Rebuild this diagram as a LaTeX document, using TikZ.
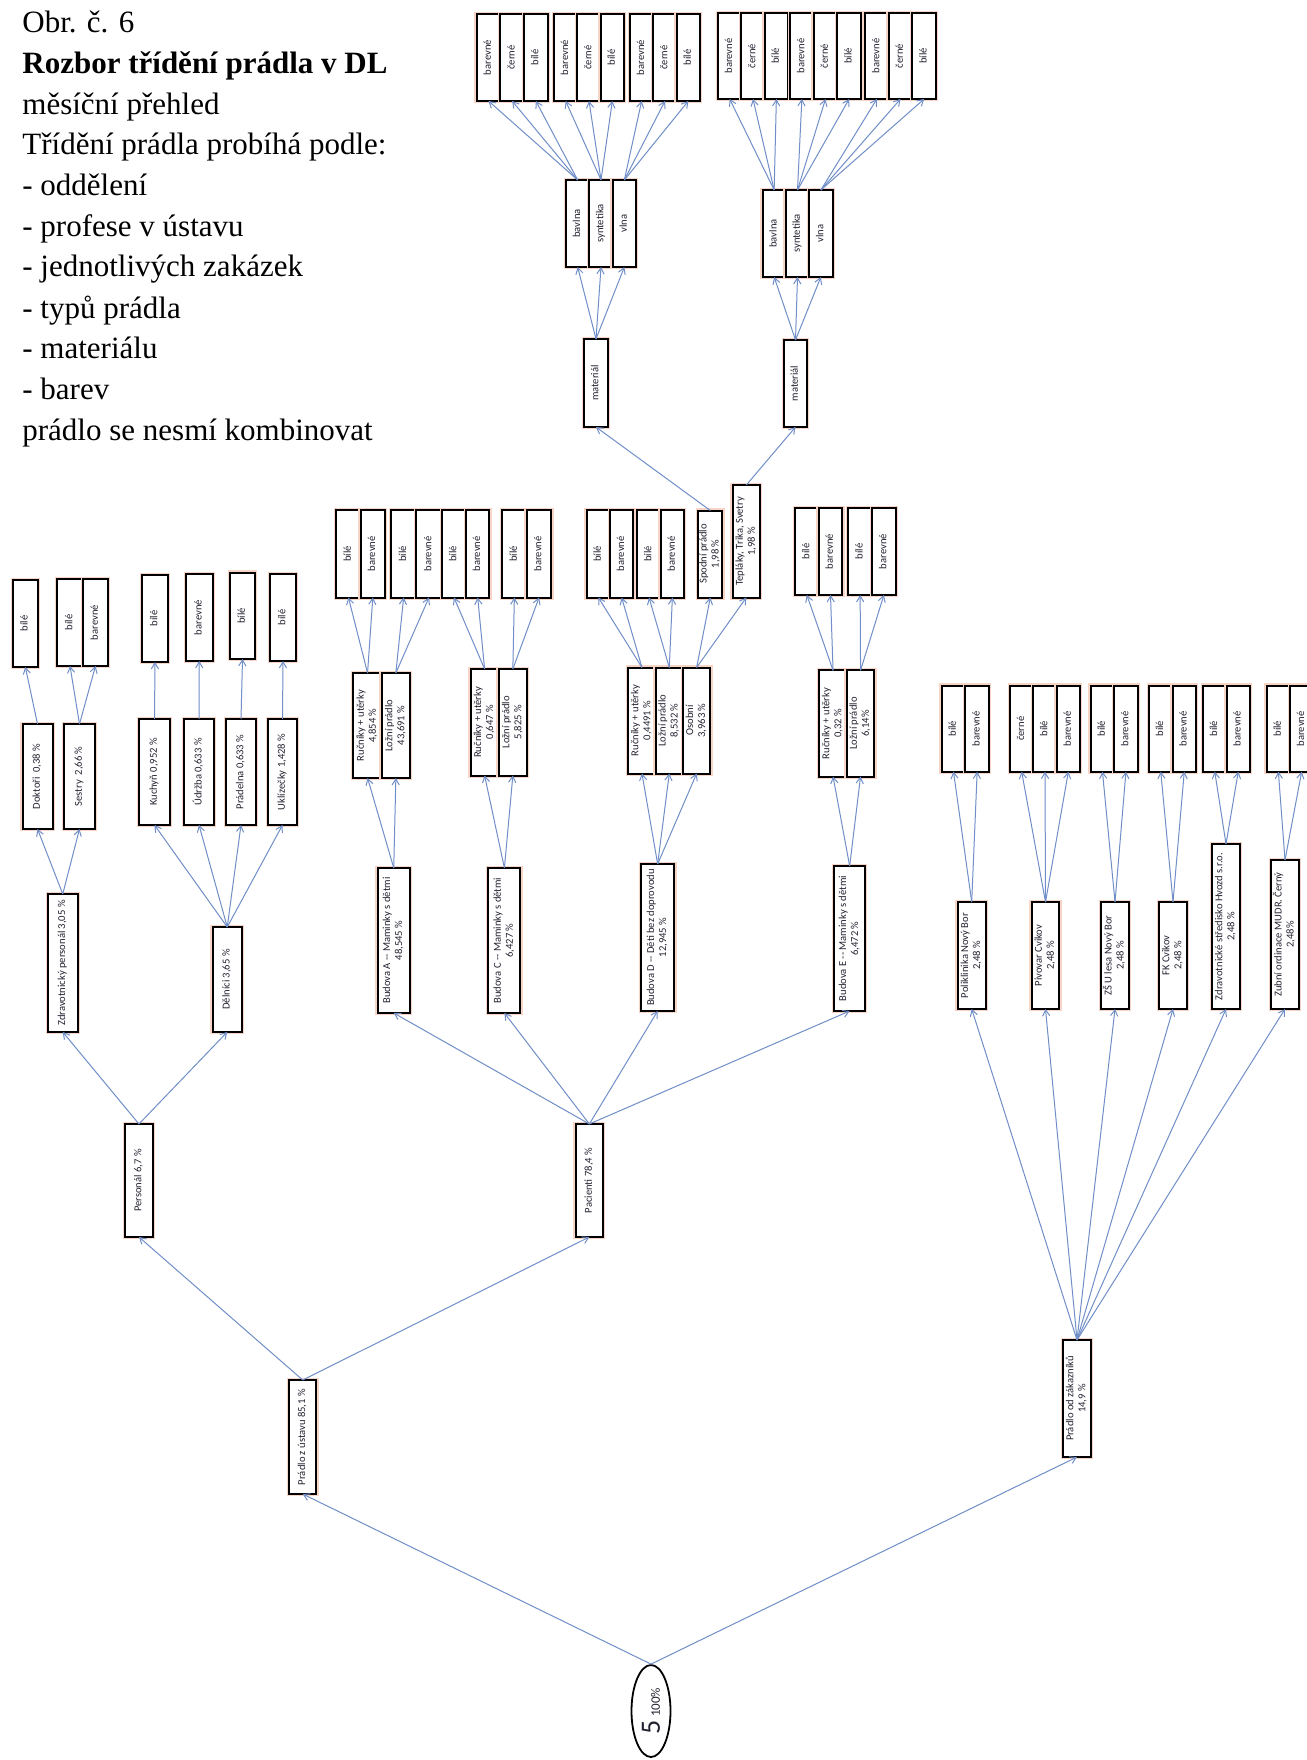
\documentclass[tikz,border=0pt]{standalone}
\usepackage{fontspec}
\setmainfont{Liberation Serif}
\newfontfamily\boxfont{Carlito}
\usetikzlibrary{arrows.meta,shapes.geometric}
\definecolor{arrc}{RGB}{112,142,200}
\definecolor{txtc}{RGB}{35,35,50}
\definecolor{halo}{RGB}{246,212,198}
\newcommand{\rt}[1]{\rotatebox{90}{\begin{tabular}{@{}c@{}}#1\end{tabular}}}
\newcommand{\bx}[6]{\node[box, minimum width={(#4-#2)*0.5pt}, minimum height={(#5-#3)*0.5pt}] (#1) at ({(#2+#4)/2},{(#3+#5)/2}) {\rt{#6}};}
\newcommand{\tl}[3]{\node[titletext] (#1) at (22,#2) {#3};}
\tikzset{
  box/.style={draw=black, line width=1pt, fill=white, inner sep=0pt, outer sep=0pt,
    font=\boxfont\fontsize{5.3pt}{6pt}\selectfont, text=txtc,
    preaction={draw=halo, line width=2.4pt}},
  arr/.style={draw=arrc, line width=0.5pt, -{Straight Barb[length=3pt,width=3.6pt]}},
  titletext/.style={anchor=base west, inner sep=0pt, font=\fontsize{15.5pt}{20pt}\selectfont, text=black}
}
\begin{document}
\begin{tikzpicture}[x=0.5pt,y=-0.5pt]
\fill[white] (0,0) rectangle (1306,1760);
\useasboundingbox (0,0) rectangle (1306,1760);

% ---------- title text ----------
\tl{t1}{33}{Obr. č. 6}
\tl{t2}{73.7}{\textbf{Rozbor třídění prádla v DL}}
\tl{t3}{114.4}{měsíční přehled}
\tl{t4}{155}{Třídění prádla probíhá podle:}
\tl{t5}{195.8}{- oddělení}
\tl{t6}{236.5}{- profese v ústavu}
\tl{t7}{277}{- jednotlivých zakázek}
\tl{t8}{318}{- typů prádla}
\tl{t9}{358.6}{- materiálu}
\tl{t10}{399}{- barev}
\tl{t11}{440}{prádlo se nesmí kombinovat}

% ---------- top left group ----------
\bx{a1}{476.7}{14}{500.3}{101}{barevné}
\bx{a2}{500.3}{14}{524}{101}{černé}
\bx{a3}{524}{14}{547.7}{101}{bílé}
\bx{b1}{554}{14}{577.3}{101}{barevné}
\bx{b2}{577.3}{14}{600.7}{101}{černé}
\bx{b3}{600.7}{14}{624}{101}{bílé}
\bx{c1}{630}{14}{653.3}{101}{barevné}
\bx{c2}{653.3}{14}{676.7}{101}{černé}
\bx{c3}{676.7}{14}{700}{101}{bílé}
\bx{m1}{566}{180}{589.3}{267}{bavlna}
\bx{m2}{589.3}{180}{612.7}{267}{syntetika}
\bx{m3}{612.7}{180}{636}{267}{vlna}
\bx{ml}{584}{339}{608}{427}{materiál}

% ---------- top right group ----------
\bx{d1}{718}{13}{741.3}{99}{barevné}
\bx{d2}{741.3}{13}{764.7}{99}{černé}
\bx{d3}{764.7}{13}{788}{99}{bílé}
\bx{e1}{790}{13}{813.7}{99}{barevné}
\bx{e2}{813.7}{13}{837.3}{99}{černé}
\bx{e3}{837.3}{13}{861}{99}{bílé}
\bx{f1}{865}{13}{888.7}{99}{barevné}
\bx{f2}{888.7}{13}{912.3}{99}{černé}
\bx{f3}{912.3}{13}{936}{99}{bílé}
\bx{n1}{762.5}{190}{785.8}{277}{bavlna}
\bx{n2}{785.8}{190}{809.2}{277}{syntetika}
\bx{n3}{809.2}{190}{832.5}{277}{vlna}
\bx{mr}{784}{340}{807}{427}{materiál}

% ---------- patients: colour boxes ----------
\bx{pa1}{336.2}{510}{360.6}{597.5}{bílé}
\bx{pa2}{360.6}{510}{385}{597.5}{barevné}
\bx{q1}{391.3}{510}{416}{597.5}{bílé}
\bx{q2}{416}{510}{442}{597.5}{barevné}
\bx{q3}{442}{510}{466}{597.5}{bílé}
\bx{q4}{466}{510}{489.4}{597.5}{barevné}
\bx{pc1}{502}{510}{526.7}{597.5}{bílé}
\bx{pc2}{526.7}{510}{551.4}{597.5}{barevné}
\bx{dc1}{586.7}{510}{610}{597.5}{bílé}
\bx{dc2}{610}{510}{633.3}{597.5}{barevné}
\bx{dc3}{637.3}{510}{660.7}{597.5}{bílé}
\bx{dc4}{660.7}{510}{684}{597.5}{barevné}
\bx{spod}{698.3}{510.5}{722.3}{597.5}{Spodní prádlo\\1,98 \%}
\bx{tepl}{732.7}{485}{760}{597.5}{Tepláky, Trika, Svetry\\1,98 \%}
\bx{ec1}{795}{508}{818.7}{595}{bílé}
\bx{ec2}{818.7}{508}{842.3}{595}{barevné}
\bx{ec3}{848.3}{508}{872}{595}{bílé}
\bx{ec4}{872}{508}{895.7}{595}{barevné}

% ---------- patients: type boxes ----------
\bx{rA1}{353.4}{673}{381.7}{778}{Ručníky + utěrky\\4,854 \%}
\bx{rA2}{381.7}{673}{410}{778}{Ložní prádlo\\43,691 \%}
\bx{rC1}{470.5}{669}{498.7}{775.5}{Ručníky + utěrky\\0,647 \%}
\bx{rC2}{498.7}{669}{527}{775.5}{Ložní prádlo\\5,825 \%}
\bx{rD1}{628.3}{667.5}{655.6}{773.5}{Ručníky + utěrky\\0,4491 \%}
\bx{rD2}{655.6}{667.5}{683}{773.5}{Ložní prádlo\\8,532 \%}
\bx{rD3}{683}{667.5}{710.3}{773.5}{Osobní\\3,963 \%}
\bx{rE1}{819.3}{670.4}{846.8}{776.5}{Ručníky + utěrky\\0,32 \%}
\bx{rE2}{846.8}{670.4}{874.3}{776.5}{Ložní prádlo\\6,14\%}

% ---------- buildings ----------
\bx{bA}{377.5}{868}{410}{1013}{Budova A -- Maminky s dětmi\\48,545 \%}
\bx{bC}{488.4}{868}{520.4}{1013}{Budova C -- Maminky s dětmi\\6,427 \%}
\bx{bD}{641}{864}{674.3}{1011}{Budova D -- Děti bez doprovodu\\12,945 \%}
\bx{bE}{834.3}{866}{865}{1011}{Budova E -- Maminky s dětmi\\6,472 \%}

% ---------- personnel ----------
\bx{dokc}{13.2}{580}{37.5}{667}{bílé}
\bx{sesc1}{57}{579}{83}{666}{bílé}
\bx{sesc2}{83}{579}{108}{666}{barevné}
\bx{kuchc}{142}{575}{168}{662}{bílé}
\bx{udrc}{186}{574}{212.5}{661}{barevné}
\bx{pradc}{230}{572.5}{255}{659}{bílé}
\bx{uklc}{270}{574}{296}{661}{bílé}
\bx{dok}{22.5}{724}{52.5}{829}{Doktoři~ 0,38 \%}
\bx{ses}{64}{724}{95}{829}{Sestry~ 2,66 \%}
\bx{kuch}{139}{719}{170}{825}{Kuchyň 0,952 \%}
\bx{udr}{184}{719}{214}{825}{Údržba 0,633 \%}
\bx{prad}{226}{719}{256}{825}{Prádelna 0,633 \%}
\bx{ukl}{268}{719}{297}{825}{Uklízečky 1,428 \%}
\bx{zdr}{48}{894}{77.5}{1032}{Zdravotnický personál 3,05 \%}
\bx{del}{212.5}{927}{242}{1032}{Dělníci 3,65 \%}

% ---------- level 1/2 ----------
\bx{pers}{125.4}{1124}{152.5}{1237}{Personál 6,7 \%}
\bx{pac}{575.7}{1124}{603}{1237}{Pacienti 78,4 \%}
\bx{pzu}{289}{1380}{316.4}{1494}{Prádlo z ústavu 85,1 \%}
\bx{pzz}{1063}{1340}{1091}{1457}{Prádlo od zákazníků\\14,9 \%}

% ---------- customers ----------
\bx{k1a}{941.7}{685.7}{965.3}{771.7}{bílé}
\bx{k1b}{965.3}{685.7}{989}{771.7}{barevné}
\bx{k2a}{1010}{685.7}{1033.3}{771.7}{černé}
\bx{k2b}{1033.3}{685.7}{1056.7}{771.7}{bílé}
\bx{k2c}{1056.7}{685.7}{1080}{771.7}{barevné}
\bx{k3a}{1090.7}{685.7}{1114.2}{771.7}{bílé}
\bx{k3b}{1114.2}{685.7}{1137.7}{771.7}{barevné}
\bx{k4a}{1149}{685.7}{1172.5}{771.7}{bílé}
\bx{k4b}{1172.5}{685.7}{1196}{771.7}{barevné}
\bx{k5a}{1203}{685.7}{1226.5}{771.7}{bílé}
\bx{k5b}{1226.5}{685.7}{1250}{771.7}{barevné}
\bx{k6a}{1266.7}{685.7}{1290}{771.7}{bílé}
\bx{k6b}{1290}{685.7}{1313.3}{771.7}{barevné}
\bx{z1}{957.7}{902}{985.7}{1009}{Poliklinika Nový Bor\\2,48 \%}
\bx{z2}{1031.7}{902}{1059.3}{1009}{Pivovar Cvikov\\2,48 \%}
\bx{z3}{1101}{902}{1129}{1009}{ZŠ U lesa Nový Bor\\2,48 \%}
\bx{z4}{1159}{902}{1187}{1009}{FK Cvikov\\2,48 \%}
\bx{z5}{1212}{844}{1240}{1009}{Zdravotnické středisko Hvozd s.r.o.\\2,48 \%}
\bx{z6}{1271}{860}{1299}{1009}{Zubní ordinace MUDR. Černý\\2,48\%}

% ---------- root ----------
\node[ellipse, draw=black, line width=0.9pt, fill=white, inner sep=0pt,
  minimum width=19.5pt, minimum height=46pt, font=\boxfont, text=txtc]
  (root) at (651,1711)
  {\rotatebox{90}{{\fontsize{14pt}{14pt}\selectfont 5}\,{\fontsize{6.5pt}{7pt}\selectfont 100\%}}};

% ---------- connectors ----------
\foreach \s/\t in {root/pzu,root/pzz,pzu/pers,pzu/pac,
  pers/zdr,pers/del,zdr/dok,zdr/ses,dok/dokc,ses/sesc1,ses/sesc2,
  del/kuch,del/udr,del/prad,del/ukl,kuch/kuchc,udr/udrc,prad/pradc,ukl/uklc,
  pac/bA,pac/bC,pac/bD,pac/bE,
  bA/rA1,bA/rA2,rA1/pa1,rA1/pa2,rA2/q1,rA2/q2,
  bC/rC1,bC/rC2,rC1/q3,rC1/q4,rC2/pc1,rC2/pc2,
  bD/rD1,bD/rD2,bD/rD3,rD1/dc1,rD1/dc2,rD2/dc3,rD2/dc4,rD3/spod,rD3/tepl,
  bE/rE1,bE/rE2,rE1/ec1,rE1/ec2,rE2/ec3,rE2/ec4,
  spod/ml,tepl/mr,
  ml/m1,ml/m2,ml/m3,m1/a1,m1/a2,m1/a3,m2/b1,m2/b2,m2/b3,m3/c1,m3/c2,m3/c3,
  mr/n1,mr/n2,mr/n3,n1/d1,n1/d2,n1/d3,n2/e1,n2/e2,n2/e3,n3/f1,n3/f2,n3/f3,
  pzz/z1,pzz/z2,pzz/z3,pzz/z4,pzz/z5,pzz/z6,
  z1/k1a,z1/k1b,z2/k2a,z2/k2b,z2/k2c,z3/k3a,z3/k3b,z4/k4a,z4/k4b,
  z5/k5a,z5/k5b,z6/k6a,z6/k6b}
  \draw[arr] (\s.north) -- (\t.south);
\end{tikzpicture}
\end{document}
